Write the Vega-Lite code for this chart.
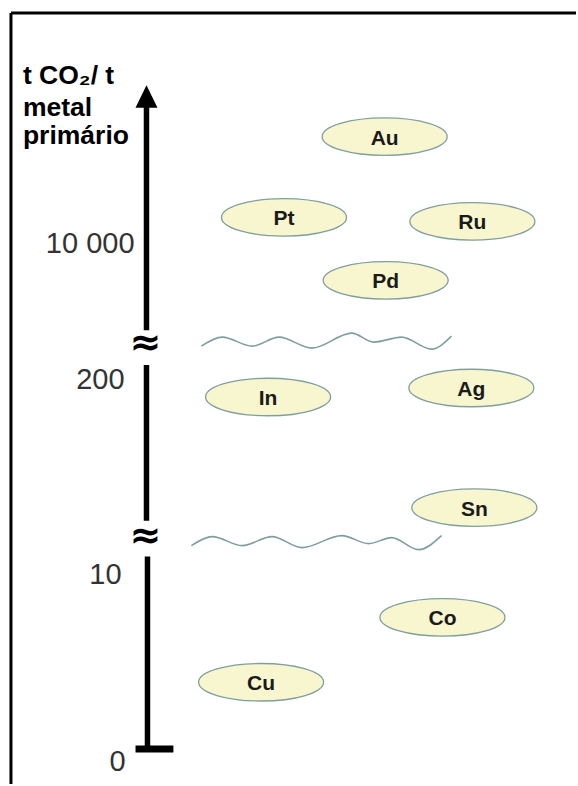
{
  "$schema": "https://vega.github.io/schema/vega-lite/v6.json",
  "width": 578,
  "height": 786,
  "padding": 0,
  "autosize": {"type": "fit", "contains": "padding"},
  "background": "white",
  "config": {"view": {"stroke": null}},
  "encoding": {
    "x": {"field": "x", "type": "quantitative", "scale": {"domain": [0, 578], "nice": false, "zero": false}, "axis": null},
    "y": {"field": "y", "type": "quantitative", "scale": {"domain": [0, 786], "nice": false, "zero": false, "reverse": true}, "axis": null}
  },
  "layer": [
    {
      "data": {"values": [
        {"x": 11, "y": 13, "x2": 578, "y2": 13},
        {"x": 11, "y": 13, "x2": 11, "y2": 786}
      ]},
      "mark": {"type": "rule", "color": "black", "strokeWidth": 3},
      "encoding": {"x2": {"field": "x2"}, "y2": {"field": "y2"}}
    },
    {
      "data": {"values": [
        {"x": 147, "y": 102, "x2": 147, "y2": 331},
        {"x": 147, "y": 366, "x2": 147, "y2": 522},
        {"x": 148, "y": 558, "x2": 148, "y2": 751}
      ]},
      "mark": {"type": "rule", "color": "black", "strokeWidth": 5.5},
      "encoding": {"x2": {"field": "x2"}, "y2": {"field": "y2"}}
    },
    {
      "data": {"values": [
        {"x": 136, "y": 751, "x2": 174, "y2": 751}
      ]},
      "mark": {"type": "rule", "color": "black", "strokeWidth": 7},
      "encoding": {"x2": {"field": "x2"}, "y2": {"field": "y2"}}
    },
    {
      "data": {"values": [{"x": 147, "y": 97}]},
      "mark": {"type": "point", "shape": "M0,-1.05 L1,1 L-1,1 Z", "filled": true, "color": "black", "opacity": 1, "size": 484}
    },
    {
      "data": {"values": [
        {"x": 146, "y": 345, "label": "≈"},
        {"x": 146, "y": 538, "label": "≈"}
      ]},
      "mark": {"type": "text", "font": "DejaVu Sans", "fontSize": 38, "fontWeight": "bold", "color": "black", "baseline": "middle", "align": "center"},
      "encoding": {"text": {"field": "label"}}
    },
    {
      "data": {"values": [
        {"x": 135, "y": 245, "label": "10 000"},
        {"x": 125, "y": 381, "label": "200"},
        {"x": 122, "y": 576, "label": "10"},
        {"x": 126, "y": 764, "label": "0"}
      ]},
      "mark": {"type": "text", "font": "Liberation Sans", "fontSize": 29, "color": "#333333", "baseline": "middle", "align": "right"},
      "encoding": {"text": {"field": "label"}}
    },
    {
      "data": {"values": [
        {"x": 23, "y": 84, "label": "t CO₂/ t"},
        {"x": 23, "y": 116, "label": "metal"},
        {"x": 23, "y": 144, "label": "primário"}
      ]},
      "mark": {"type": "text", "font": "Liberation Sans", "fontSize": 26.5, "fontWeight": "bold", "color": "black", "baseline": "alphabetic", "align": "left"},
      "encoding": {"text": {"field": "label"}}
    },
    {
      "data": {"values": [
        {"wave": "a", "x": 202, "y": 347},
        {"wave": "a", "x": 223, "y": 338},
        {"wave": "a", "x": 253, "y": 347},
        {"wave": "a", "x": 280, "y": 338},
        {"wave": "a", "x": 313, "y": 349},
        {"wave": "a", "x": 353, "y": 334},
        {"wave": "a", "x": 375, "y": 343},
        {"wave": "a", "x": 403, "y": 338},
        {"wave": "a", "x": 433, "y": 350},
        {"wave": "a", "x": 453, "y": 337},
        {"wave": "b", "x": 192, "y": 547},
        {"wave": "b", "x": 213, "y": 538},
        {"wave": "b", "x": 243, "y": 547},
        {"wave": "b", "x": 273, "y": 538},
        {"wave": "b", "x": 303, "y": 549},
        {"wave": "b", "x": 343, "y": 537},
        {"wave": "b", "x": 370, "y": 545},
        {"wave": "b", "x": 393, "y": 539},
        {"wave": "b", "x": 420, "y": 551},
        {"wave": "b", "x": 443, "y": 537}
      ]},
      "mark": {"type": "line", "interpolate": "monotone", "color": "#7f9e9e", "strokeWidth": 1.6},
      "encoding": {"detail": {"field": "wave"}}
    },
    {
      "data": {"values": [
        {"metal": "Au", "x": 386, "y": 137},
        {"metal": "Pt", "x": 285, "y": 218},
        {"metal": "Ru", "x": 474, "y": 222},
        {"metal": "Pd", "x": 387, "y": 281},
        {"metal": "In", "x": 269, "y": 398},
        {"metal": "Ag", "x": 473, "y": 389},
        {"metal": "Sn", "x": 476, "y": 509},
        {"metal": "Co", "x": 444, "y": 619},
        {"metal": "Cu", "x": 262, "y": 684}
      ]},
      "layer": [
        {
          "mark": {"type": "point", "shape": "M-1,0 C-1,-0.166 -0.552,-0.3 0,-0.3 C0.552,-0.3 1,-0.166 1,0 C1,0.166 0.552,0.3 0,0.3 C-0.552,0.3 -1,0.166 -1,0 Z", "filled": true, "fill": "#f8f6cf", "stroke": "#7f9e9e", "strokeWidth": 1.3, "opacity": 1, "size": 15625}
        },
        {
          "mark": {"type": "text", "font": "Liberation Sans", "fontSize": 21, "fontWeight": "bold", "color": "#1a1a1a", "baseline": "middle", "align": "center", "dy": 2},
          "encoding": {"text": {"field": "metal"}}
        }
      ]
    }
  ]
}
